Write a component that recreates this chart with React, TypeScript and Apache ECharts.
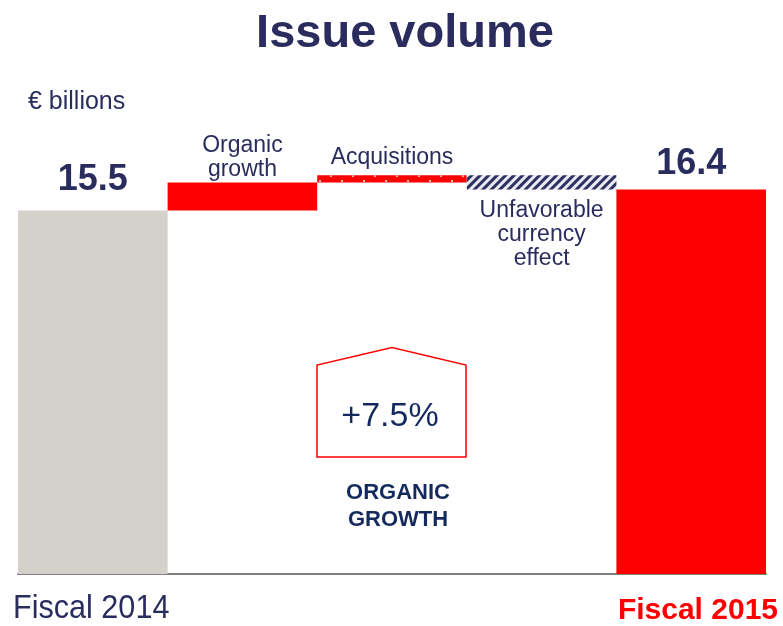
import React, { useEffect, useRef } from 'react';
import * as echarts from 'echarts';

const categories = ['Fiscal 2014', 'Organic growth', 'Acquisitions', 'Unfavorable currency effect', 'Fiscal 2015'];
const startValue = 15.5;
const changes = [1.2, 0.3, -0.6];
const endValue = 16.4;
const barLabels = ['15.5', 'Organic\ngrowth', 'Acquisitions', 'Unfavorable\ncurrency\neffect', '16.4'];
const axisLabels = ['Fiscal 2014', 'Fiscal 2015'];
const organicGrowthPct = '+7.5%';
const calloutText = 'ORGANIC\nGROWTH';
const unitText = '€ billions';
const titleText = 'Issue volume';

const NAVY = '#2b2c5e';
const DEEP = '#14295e';
const RED = '#ff0000';
const GRAY = '#d4d1ca';
const FONT = 'Arial, "Liberation Sans", sans-serif';

export default function App() {
  const ref = useRef<HTMLDivElement>(null);
  useEffect(() => {
    const chart = echarts.init(ref.current!, null, { renderer: 'svg' });

    const base: number[] = [0];
    const visible: number[] = [startValue];
    let running = startValue;
    changes.forEach((c) => {
      const next = running + c;
      base.push(Math.min(running, next));
      visible.push(Math.abs(c));
      running = next;
    });
    base.push(0);
    visible.push(endValue);

    const dots = {
      symbol: 'circle',
      color: 'rgba(255,255,255,0.85)',
      symbolSize: 1,
      dashArrayX: [[2, 20], [0, 11, 2, 9]],
      dashArrayY: [2, 3],
    };
    const stripes = {
      symbol: 'rect',
      color: '#2e3163',
      symbolSize: 1,
      dashArrayX: [1, 0],
      dashArrayY: [2.2, 2.2],
      rotation: -Math.PI / 4,
    };

    const labelBase = { show: true, color: NAVY, fontFamily: FONT, fontSize: 23, lineHeight: 24 };
    const valueLabel = { ...labelBase, fontSize: 36, lineHeight: 36, fontWeight: 'bold' };

    const itemStyles: any[] = [
      { color: GRAY },
      { color: RED },
      { color: RED, decal: dots },
      { color: '#eceaf2', decal: stripes },
      { color: RED },
    ];
    const labels: any[] = [
      { ...valueLabel, position: 'top', distance: 15 },
      { ...labelBase, position: 'top', distance: 2 },
      { ...labelBase, position: 'top', distance: 7 },
      { ...labelBase, position: 'bottom', distance: 8 },
      { ...valueLabel, position: 'top', distance: 10 },
    ];

    const visData = visible.map((v, i) => ({
      value: v,
      itemStyle: itemStyles[i],
      label: { ...labels[i], formatter: barLabels[i] },
    }));

    chart.setOption({
      animation: false,
      grid: { left: 18, right: 17, top: 105, bottom: 52 },
      xAxis: {
        type: 'category',
        data: categories,
        axisLine: { show: true, lineStyle: { color: '#808080', width: 2 } },
        axisTick: { show: false },
        axisLabel: { show: false },
      },
      yAxis: { type: 'value', min: 0, max: 20, show: false, splitLine: { show: false } },
      series: [
        {
          type: 'bar',
          stack: 'total',
          data: base,
          silent: true,
          itemStyle: { color: 'transparent' },
          barCategoryGap: '0%',
        },
        {
          type: 'bar',
          stack: 'total',
          data: visData,
          barCategoryGap: '0%',
        },
      ],
      graphic: [
        {
          type: 'text', x: 405, y: 30.5,
          style: { text: titleText, fontSize: 47, fontWeight: 'bold', fontFamily: FONT, fill: NAVY, align: 'center', verticalAlign: 'middle', textAlign: 'center', textVerticalAlign: 'middle' },
        },
        {
          type: 'text', x: 28, y: 100,
          style: { text: unitText, fontSize: 25, fontFamily: FONT, fill: NAVY, align: 'left', verticalAlign: 'middle', textAlign: 'left', textVerticalAlign: 'middle' },
        },
        {
          type: 'polygon',
          shape: { points: [[317, 457], [317, 365], [392, 347.5], [466, 365], [466, 457]] },
          style: { fill: 'none', stroke: RED, lineWidth: 1.5 },
        },
        {
          type: 'text', x: 390, y: 414,
          style: { text: organicGrowthPct, fontSize: 34, fontFamily: FONT, fill: DEEP, align: 'center', verticalAlign: 'middle', textAlign: 'center', textVerticalAlign: 'middle' },
        },
        {
          type: 'text', x: 398, y: 504.5,
          style: { text: calloutText, fontSize: 22, lineHeight: 27, fontWeight: 'bold', fontFamily: FONT, fill: DEEP, align: 'center', verticalAlign: 'middle', textAlign: 'center', textVerticalAlign: 'middle' },
        },
        {
          type: 'text', x: 13, y: 606.5, scaleX: 0.9,
          style: { text: axisLabels[0], fontSize: 34, lineHeight: 28, fontFamily: FONT, fill: NAVY, align: 'left', verticalAlign: 'middle', textAlign: 'left', textVerticalAlign: 'middle' },
        },
        {
          type: 'text', x: 778, y: 608.5,
          style: { text: axisLabels[1], fontSize: 30, lineHeight: 26, fontWeight: 'bold', fontFamily: FONT, fill: RED, align: 'right', verticalAlign: 'middle', textAlign: 'right', textVerticalAlign: 'middle' },
        },
      ],
    });
    return () => chart.dispose();
  }, []);
  return <div ref={ref} style={{ position: 'fixed', left: 0, top: 0, width: 783, height: 626 }} />;
}
